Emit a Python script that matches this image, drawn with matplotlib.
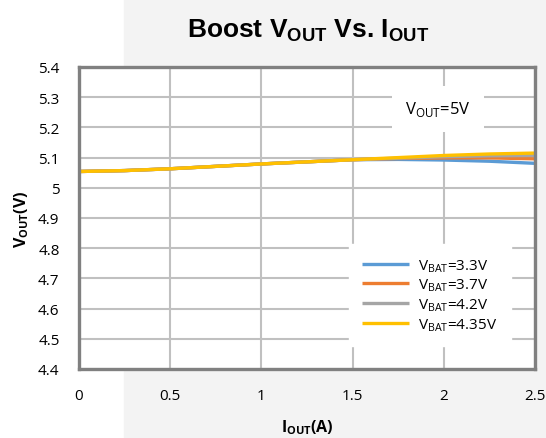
import matplotlib
matplotlib.use("Agg")
import matplotlib.pyplot as plt
from matplotlib.patches import Rectangle

# Boost VOUT vs IOUT
iout = [0, 0.25, 0.5, 0.75, 1.0, 1.25, 1.5, 1.75, 2.0, 2.25, 2.5]
v_bat_33 = [5.054, 5.057, 5.063, 5.071, 5.079, 5.086, 5.093, 5.094, 5.092, 5.088, 5.081]
v_bat_37 = [5.054, 5.057, 5.063, 5.071, 5.079, 5.086, 5.093, 5.097, 5.099, 5.099, 5.096]
v_bat_42 = [5.054, 5.057, 5.063, 5.071, 5.079, 5.086, 5.093, 5.098, 5.103, 5.106, 5.107]
v_bat_435 = [5.054, 5.057, 5.063, 5.071, 5.079, 5.086, 5.093, 5.100, 5.107, 5.112, 5.115]
labels = ["3.3V", "3.7V", "4.2V", "4.35V"]
colors = ["#5B9BD5", "#ED7D31", "#A5A5A5", "#FFC000"]
x_ticks = [0, 0.5, 1, 1.5, 2, 2.5]
y_ticks = [4.4, 4.5, 4.6, 4.7, 4.8, 4.9, 5.0, 5.1, 5.2, 5.3, 5.4]

plt.rcParams['font.family'] = ['Open Sans', 'DejaVu Sans']

fig = plt.figure(figsize=(5.46, 4.39), dpi=100)
# faint grey backdrop (watermark area)
fig.patches.append(Rectangle((124 / 546, 0), 1, 1, transform=fig.transFigure,
                             color="#f3f3f3", zorder=-5))
ax = fig.add_axes([79 / 546, 1 - 370 / 439, 456 / 546, 302 / 439])
ax.set_facecolor("white")

for ys, lab, c in zip([v_bat_33, v_bat_37, v_bat_42, v_bat_435], labels, colors):
    ax.plot(iout, ys, color=c, lw=2.4, label=r"V$_\mathregular{BAT}$=" + lab,
            solid_capstyle="butt")

ax.set_xlim(0, 2.5)
ax.set_ylim(4.4, 5.4)
ax.set_xticks(x_ticks)
ax.set_xticklabels(["0", "0.5", "1", "1.5", "2", "2.5"])
ax.set_yticks(y_ticks)
ax.set_yticklabels(["4.4", "4.5", "4.6", "4.7", "4.8", "4.9", "5", "5.1", "5.2", "5.3", "5.4"])
ax.tick_params(length=0, labelsize=11, pad=14)
ax.tick_params(axis="x", pad=14)
ax.grid(True, color="#c0c0c0", lw=1.5)
ax.set_axisbelow(True)
for s in ax.spines.values():
    s.set_color("#808080")
    s.set_linewidth(2.4)

ax.set_xlabel(r"I$_\mathregular{OUT}$(A)", fontsize=11.5, fontweight="bold", labelpad=10)
ax.set_ylabel(r"V$_\mathregular{OUT}$(V)", fontsize=11.5, fontweight="bold", labelpad=5)
fig.text(308 / 546, 1 - 37 / 439, r"Boost V$_\mathregular{OUT}$ Vs. I$_\mathregular{OUT}$",
         ha="center", va="baseline", fontsize=19, fontweight="bold",
         family=["Liberation Sans Narrow", "Liberation Sans"])

ax.text(0.787, 0.861, r"V$_\mathregular{OUT}$=5V", transform=ax.transAxes, ha="center",
        va="center", fontsize=12,
        bbox=dict(facecolor="white", edgecolor="none", boxstyle="square,pad=0.8"))

leg = ax.legend(loc="upper left", bbox_to_anchor=(0.592, 0.414), fontsize=11,
                frameon=True, fancybox=False, framealpha=1, edgecolor="white",
                handlelength=3.1, handletextpad=0.6, labelspacing=0.2,
                borderpad=0.85, borderaxespad=0)

fig.savefig("out.png", dpi=100)
